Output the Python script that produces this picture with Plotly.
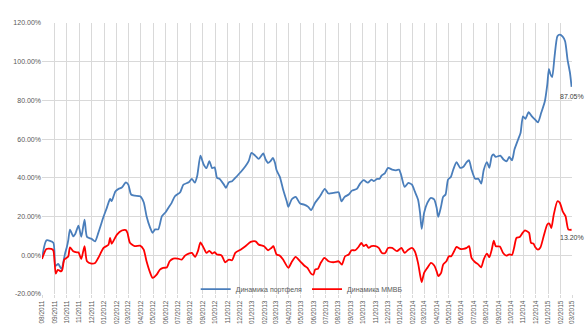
import plotly.graph_objects as go

# Portfolio dynamics (%)
portfolio_dates = [
    "2011-08-01", "2011-08-12", "2011-08-29", "2011-09-03", "2011-09-10", "2011-09-18", "2011-09-27",
    "2011-10-01", "2011-10-05", "2011-10-09", "2011-10-17", "2011-10-22", "2011-10-30", "2011-11-06",
    "2011-11-14", "2011-11-20", "2011-12-01", "2011-12-10", "2011-12-18", "2011-12-31", "2012-01-08",
    "2012-01-16", "2012-01-20", "2012-01-29", "2012-02-06", "2012-02-14", "2012-02-24", "2012-03-01",
    "2012-03-08", "2012-03-17", "2012-03-30", "2012-04-08", "2012-04-15", "2012-04-24", "2012-04-30",
    "2012-05-06", "2012-05-14", "2012-05-23", "2012-06-01", "2012-06-08", "2012-06-16", "2012-06-24",
    "2012-07-07", "2012-07-15", "2012-07-28", "2012-08-05", "2012-08-12", "2012-08-18", "2012-08-26",
    "2012-09-03", "2012-09-10", "2012-09-17", "2012-09-24", "2012-09-30", "2012-10-06", "2012-10-12",
    "2012-10-23", "2012-10-28", "2012-11-04", "2012-11-12", "2012-11-20", "2012-12-03", "2012-12-15",
    "2012-12-23", "2012-12-30", "2013-01-08", "2013-01-17", "2013-01-28", "2013-02-03", "2013-02-09",
    "2013-02-15", "2013-02-21", "2013-02-26", "2013-03-02", "2013-03-10", "2013-03-18", "2013-03-27",
    "2013-03-31", "2013-04-08", "2013-04-18", "2013-04-29", "2013-05-09", "2013-05-19", "2013-05-26",
    "2013-06-05", "2013-06-17", "2013-06-29", "2013-07-08", "2013-07-20", "2013-08-02", "2013-08-09",
    "2013-08-17", "2013-08-27", "2013-09-04", "2013-09-16", "2013-09-24", "2013-10-03", "2013-10-13",
    "2013-10-22", "2013-10-28", "2013-11-05", "2013-11-11", "2013-11-16", "2013-11-24", "2013-12-02",
    "2013-12-12", "2013-12-22", "2013-12-29", "2014-01-03", "2014-01-12", "2014-01-21", "2014-01-30",
    "2014-02-06", "2014-02-14", "2014-02-19", "2014-02-23", "2014-03-01", "2014-03-09", "2014-03-18",
    "2014-03-26", "2014-04-01", "2014-04-05", "2014-04-12", "2014-04-17", "2014-04-23", "2014-04-29",
    "2014-05-06", "2014-05-12", "2014-05-20", "2014-05-29", "2014-06-06", "2014-06-14", "2014-06-20",
    "2014-06-26", "2014-07-05", "2014-07-13", "2014-07-20", "2014-07-26", "2014-08-03", "2014-08-09",
    "2014-08-15", "2014-08-19", "2014-08-25", "2014-09-05", "2014-09-13", "2014-09-21", "2014-09-27",
    "2014-10-04", "2014-10-10", "2014-10-19", "2014-10-25", "2014-10-31", "2014-11-06", "2014-11-14",
    "2014-11-22", "2014-11-30", "2014-12-07", "2014-12-15", "2014-12-24", "2014-12-30", "2015-01-03",
    "2015-01-07", "2015-01-11", "2015-01-17", "2015-01-24", "2015-01-30", "2015-02-06", "2015-02-12",
    "2015-02-18", "2015-02-24", "2015-02-28",
]
portfolio_values = [
    -1.5, 7.7, 6.5, -5.5, -4.5, -7.0, 1.0,
    4.0, 8.0, 13.3, 9.8, 11.0, 15.3, 9.5,
    18.4, 9.5, 8.5, 7.2, 11.6, 20.0, 24.5,
    29.1, 28.0, 33.0, 34.3, 35.0, 37.7, 36.5,
    31.4, 30.8, 30.5, 27.4, 20.2, 14.2, 11.6,
    13.4, 13.4, 20.2, 22.2, 24.5, 27.1, 30.5,
    32.6, 36.5, 37.7, 39.5, 37.5, 41.0, 51.5,
    46.9, 45.0, 48.6, 45.0, 45.4, 40.0, 39.5,
    36.5, 34.8, 37.7, 38.3, 40.0, 42.9, 46.0,
    48.6, 52.9, 51.5, 49.8, 52.6, 49.5, 47.7,
    48.6, 50.3, 47.7, 43.9, 40.5, 34.0, 27.9,
    25.0, 28.8, 30.2, 26.7, 26.2, 25.0, 23.3,
    27.1, 30.5, 34.3, 31.9, 32.2, 32.6, 27.9,
    30.2, 31.4, 33.4, 34.3, 37.0, 38.8, 37.5,
    39.1, 38.3, 39.5, 39.5, 41.2, 42.3, 45.2,
    44.3, 43.9, 44.3, 41.7, 35.3, 37.4, 36.5,
    33.0, 28.8, 21.9, 13.6, 21.9, 27.1, 29.7,
    28.8, 24.5, 19.8, 25.4, 30.2, 31.4, 39.1,
    40.5, 44.3, 48.1, 45.2, 45.7, 48.1, 49.1,
    44.3, 39.5, 39.5, 37.0, 43.9, 48.1, 45.2,
    51.2, 52.1, 50.8, 51.5, 49.5, 48.6, 50.8,
    49.1, 54.6, 59.8, 63.2, 71.8, 70.5, 73.9,
    71.8, 70.1, 68.7, 73.6, 79.6, 88.2, 96.3,
    93.4, 92.0, 102.8, 113.2, 114.0, 113.0, 110.6,
    101.1, 94.3, 87.05,
]

# MICEX index dynamics (%)
micex_dates = [
    "2011-08-01", "2011-08-12", "2011-08-24", "2011-08-29", "2011-09-04", "2011-09-09", "2011-09-17",
    "2011-09-20", "2011-09-25", "2011-10-01", "2011-10-05", "2011-10-09", "2011-10-17", "2011-10-26",
    "2011-10-30", "2011-11-03", "2011-11-06", "2011-11-14", "2011-11-20", "2011-12-01", "2011-12-10",
    "2011-12-18", "2011-12-31", "2012-01-12", "2012-01-16", "2012-01-20", "2012-02-02", "2012-02-14",
    "2012-02-24", "2012-02-28", "2012-03-05", "2012-03-17", "2012-03-30", "2012-04-08", "2012-04-15",
    "2012-04-24", "2012-04-30", "2012-05-10", "2012-05-18", "2012-05-26", "2012-06-04", "2012-06-11",
    "2012-06-20", "2012-07-01", "2012-07-11", "2012-07-19", "2012-07-28", "2012-08-05", "2012-08-13",
    "2012-08-20", "2012-08-26", "2012-09-03", "2012-09-10", "2012-09-17", "2012-09-24", "2012-09-30",
    "2012-10-06", "2012-10-14", "2012-10-18", "2012-10-26", "2012-11-04", "2012-11-12", "2012-11-20",
    "2012-12-03", "2012-12-15", "2012-12-28", "2013-01-09", "2013-01-17", "2013-01-30", "2013-02-09",
    "2013-02-17", "2013-02-22", "2013-03-02", "2013-03-10", "2013-03-18", "2013-03-31", "2013-04-08",
    "2013-04-18", "2013-04-29", "2013-05-09", "2013-05-17", "2013-05-26", "2013-06-01", "2013-06-05",
    "2013-06-12", "2013-06-19", "2013-06-28", "2013-07-08", "2013-07-20", "2013-08-02", "2013-08-10",
    "2013-08-18", "2013-08-27", "2013-09-03", "2013-09-12", "2013-09-20", "2013-09-27", "2013-10-03",
    "2013-10-09", "2013-10-15", "2013-10-22", "2013-11-01", "2013-11-09", "2013-11-17", "2013-11-25",
    "2013-12-02", "2013-12-12", "2013-12-24", "2014-01-04", "2014-01-12", "2014-01-21", "2014-01-30",
    "2014-02-06", "2014-02-14", "2014-02-19", "2014-02-23", "2014-03-01", "2014-03-09", "2014-03-18",
    "2014-03-26", "2014-04-01", "2014-04-05", "2014-04-12", "2014-04-17", "2014-04-25", "2014-05-01",
    "2014-05-07", "2014-05-14", "2014-05-20", "2014-05-29", "2014-06-06", "2014-06-14", "2014-06-20",
    "2014-06-26", "2014-07-05", "2014-07-13", "2014-07-20", "2014-07-26", "2014-08-03", "2014-08-09",
    "2014-08-15", "2014-08-20", "2014-08-25", "2014-09-04", "2014-09-12", "2014-09-20", "2014-09-27",
    "2014-10-04", "2014-10-09", "2014-10-15", "2014-10-23", "2014-10-30", "2014-11-04", "2014-11-10",
    "2014-11-15", "2014-11-20", "2014-11-26", "2014-11-30", "2014-12-07", "2014-12-13", "2014-12-21",
    "2014-12-30", "2015-01-04", "2015-01-09", "2015-01-15", "2015-01-24", "2015-01-30", "2015-02-06",
    "2015-02-13", "2015-02-20", "2015-02-28",
]
micex_values = [
    -1.9, 3.3, 3.3, 2.5, -9.5, -7.5, -8.3,
    -7.5, -2.2, -1.3, -0.5, 4.1, 2.1, 1.5,
    1.5, -0.5, -1.9, 4.7, -3.1, -4.3, -4.0,
    -1.3, 3.8, 5.5, 9.0, 6.0, 10.7, 12.8,
    13.0, 11.5, 6.5, 4.7, 5.0, 2.9, -3.1,
    -9.1, -11.7, -10.0, -7.4, -6.5, -6.3, -3.1,
    -1.7, -1.7, -2.2, -0.2, 0.9, 1.2, -0.8,
    2.3, 6.7, 3.8, 1.2, 2.3, 0.9, 1.6,
    0.4, 0.2, -0.3, -3.6, -2.2, -2.6, 1.2,
    2.9, 4.7, 6.9, 7.2, 5.5, 4.7, 2.6,
    3.8, 4.7, 0.4, -0.2, -2.2, -6.5, -3.6,
    -0.8, -3.1, -5.3, -6.5, -9.5, -10.0, -7.4,
    -7.0, -3.9, -1.3, -3.1, -3.6, -3.1, -4.8,
    -0.5, 0.4, 2.6, 2.6, 4.3, 6.4, 4.7,
    5.5, 3.8, 4.7, 4.7, 3.8, 1.2, 1.2,
    3.8, 3.8, 2.1, 3.8, 1.2, 2.9, 3.8,
    2.1, -3.9, -10.0, -13.9, -9.1, -6.5, -3.9,
    -5.3, -8.3, -10.8, -9.1, -4.8, -3.1, -0.5,
    -0.5, 2.1, 4.3, 3.3, 3.3, 3.8, 4.7,
    -1.3, -3.6, -4.8, -6.2, -2.2, 0.9, -1.0,
    3.0, 7.5, 4.7, 4.5, 1.2, -0.2, 0.5,
    0.2, 3.8, 9.0, 9.5, 11.6, 12.8, 12.4,
    11.6, 6.4, 6.0, 4.3, 2.9, 4.0, 9.8,
    15.9, 16.4, 14.1, 21.0, 27.9, 27.1, 22.7,
    20.2, 13.3, 13.2,
]

series_names = ["Динамика портфеля", "Динамика ММВБ"]
series_colors = ["#4A7EBB", "#FF0000"]
y_ticks = [-20, 0, 20, 40, 60, 80, 100, 120]

font_family = "Liberation Sans Narrow, Liberation Sans, Arial, sans-serif"

fig = go.Figure()
fig.add_trace(go.Scatter(
    x=portfolio_dates, y=portfolio_values, mode="lines", name=series_names[0],
    line=dict(color=series_colors[0], width=1.8, shape="spline", smoothing=0.6),
))
fig.add_trace(go.Scatter(
    x=micex_dates, y=micex_values, mode="lines", name=series_names[1],
    line=dict(color=series_colors[1], width=1.8, shape="spline", smoothing=0.6),
))

fig.add_annotation(x=portfolio_dates[-1], y=portfolio_values[-1],
                   text=f"{portfolio_values[-1]:.2f}%", showarrow=False,
                   xanchor="center", yanchor="top", yshift=-4,
                   font=dict(size=7, color="#404040", family=font_family))
fig.add_annotation(x=micex_dates[-1], y=micex_values[-1],
                   text=f"{micex_values[-1]:.2f}%", showarrow=False,
                   xanchor="center", yanchor="top", yshift=-2,
                   font=dict(size=7, color="#404040", family=font_family))

fig.update_layout(
    width=587, height=331,
    margin=dict(l=42, r=15, t=23, b=37),
    paper_bgcolor="white", plot_bgcolor="white",
    font=dict(family=font_family, size=7, color="#595959"),
    showlegend=True,
    legend=dict(orientation="h", x=0.49, xanchor="center", y=0.018, yanchor="middle",
                bgcolor="rgba(255,255,255,0)", font=dict(size=7, color="#595959"),
                itemwidth=30, tracegroupgap=0),
    xaxis=dict(
        type="date", range=["2011-08-01", "2015-03-01"],
        tick0="2011-08-01", dtick="M1", tickformat="%m/%Y", tickangle=-90,
        showgrid=True, gridcolor="#D9D9D9", gridwidth=1,
        ticks="outside", ticklen=3, tickcolor="#D9D9D9",
        showline=False, zeroline=False, automargin=False,
        tickfont=dict(size=6.5, color="#595959"),
    ),
    yaxis=dict(
        range=[-20, 120], tickvals=y_ticks,
        ticktext=[f"{v:.2f}%" for v in y_ticks],
        showgrid=True, gridcolor="#D9D9D9", gridwidth=1,
        zeroline=False, showline=False, automargin=False,
        tickfont=dict(size=7, color="#595959"),
    ),
)

fig.write_html("out.html")
